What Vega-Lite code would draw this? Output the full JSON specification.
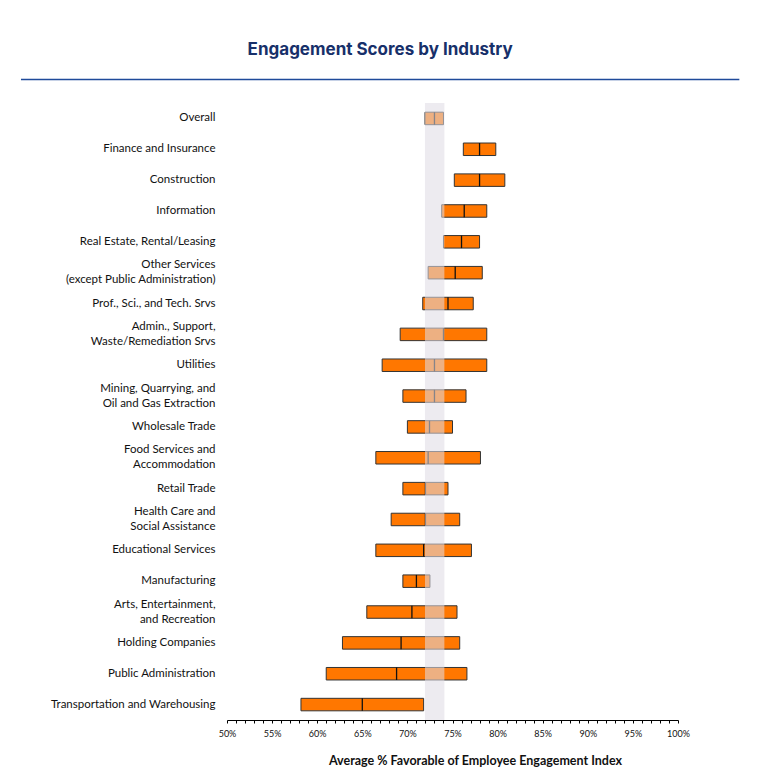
{
  "$schema": "https://vega.github.io/schema/vega-lite/v6.json",
  "padding": {"left": 20, "top": 40, "right": 20, "bottom": 10},
  "title": {"text": "Engagement Scores by Industry", "font": "Inter", "fontSize": 17, "fontWeight": 700, "color": "#17306A", "anchor": "middle", "frame": "bounds", "offset": 20},
  "width": 451,
  "height": 617,
  "config": {"view": {"stroke": null}, "font": "Lato", "axis": {"labelOverlap": false}},
  "resolve": {"scale": {"y": "independent"}},
  "layer": [
    {
      "layer": [
        {
          "data": {"name": "rows", "values": [
            {"industry": "Overall", "low": 71.95, "high": 74.0, "median": 73.0},
            {"industry": "Finance and Insurance", "low": 76.2, "high": 79.8, "median": 78.0},
            {"industry": "Construction", "low": 75.2, "high": 80.8, "median": 78.0},
            {"industry": "Information", "low": 73.8, "high": 78.8, "median": 76.3},
            {"industry": "Real Estate, Rental/Leasing", "low": 74.0, "high": 78.0, "median": 76.0},
            {"industry": "Other Services|(except Public Administration)", "low": 72.3, "high": 78.3, "median": 75.3},
            {"industry": "Prof., Sci., and Tech. Srvs", "low": 71.7, "high": 77.3, "median": 74.5},
            {"industry": "Admin., Support,|Waste/Remediation Srvs", "low": 69.2, "high": 78.8, "median": 74.0},
            {"industry": "Utilities", "low": 67.2, "high": 78.8, "median": 73.0},
            {"industry": "Mining, Quarrying, and|Oil and Gas Extraction", "low": 69.5, "high": 76.5, "median": 73.0},
            {"industry": "Wholesale Trade", "low": 70.0, "high": 75.0, "median": 72.45},
            {"industry": "Food Services and|Accommodation", "low": 66.5, "high": 78.1, "median": 72.3},
            {"industry": "Retail Trade", "low": 69.5, "high": 74.5, "median": 72.0},
            {"industry": "Health Care and|Social Assistance", "low": 68.2, "high": 75.8, "median": 72.0},
            {"industry": "Educational Services", "low": 66.5, "high": 77.1, "median": 71.8},
            {"industry": "Manufacturing", "low": 69.5, "high": 72.5, "median": 71.0},
            {"industry": "Arts, Entertainment,|and Recreation", "low": 65.5, "high": 75.5, "median": 70.5},
            {"industry": "Holding Companies", "low": 62.8, "high": 75.8, "median": 69.3},
            {"industry": "Public Administration", "low": 61.0, "high": 76.6, "median": 68.8},
            {"industry": "Transportation and Warehousing", "low": 58.2, "high": 71.8, "median": 65.0}
          ]},
          "mark": {"type": "bar", "height": 12.5, "fill": "#FF7700", "stroke": "#333333", "strokeWidth": 1},
          "encoding": {
            "y": {"field": "industry", "type": "nominal", "sort": null,
              "scale": {"paddingInner": 0, "paddingOuter": 0},
              "axis": {"title": null, "domain": false, "ticks": false, "labelPadding": 12,
                "labelExpr": "split(datum.label, '|')", "labelLineHeight": 15,
                "labelFont": "Lato", "labelFontSize": 11.5, "labelColor": "#111111", "labelLimit": 300,
                "labelOffset": {"condition": {"test": "indexof('' + datum.value, '|') >= 0", "value": -7.5}, "value": 0}}},
            "x": {"field": "low", "type": "quantitative",
              "scale": {"domain": [50, 100], "nice": false, "zero": false},
              "axis": {"title": "Average % Favorable of Employee Engagement Index",
                "values": [50,51,52,53,54,55,56,57,58,59,60,61,62,63,64,65,66,67,68,69,70,71,72,73,74,75,76,77,78,79,80,81,82,83,84,85,86,87,88,89,90,91,92,93,94,95,96,97,98,99,100],
                "tickCount": 60,
                "labelExpr": "datum.value % 5 === 0 ? datum.value + '%' : ''",
                "labelOverlap": false, "labelBound": false,
                "grid": false, "domainColor": "#000000", "domainWidth": 1,
                "tickColor": "#000000", "tickWidth": 1, "tickSize": 3,
                "labelFont": "Lato", "labelFontSize": 9, "labelColor": "#111111", "labelPadding": 6,
                "labelFlush": false,
                "titleFont": "Lato", "titleFontSize": 12.5, "titleFontWeight": "bold", "titleColor": "#111111", "titlePadding": 16,
                "titleX": 248,
                "encode": {"ticks": {"update": {
                  "y": {"signal": "datum.value % 5 === 0 ? -2.5 : 0"},
                  "y2": {"signal": "datum.value % 5 === 0 ? 3 : 2.5"}
                }}}
              }},
            "x2": {"field": "high"}
          }
        },
        {
          "data": {"name": "rows"},
          "mark": {"type": "tick", "orient": "vertical", "size": 12.5, "thickness": 1.3, "color": "#111111", "opacity": 1},
          "encoding": {
            "y": {"field": "industry", "type": "nominal", "sort": null},
            "x": {"field": "median", "type": "quantitative"}
          }
        },
        {
          "data": {"values": [{"band_low": 71.95, "band_high": 74.1}]},
          "mark": {"type": "rect", "fill": "#DFDBE4", "opacity": 0.57},
          "encoding": {
            "x": {"field": "band_low", "type": "quantitative"},
            "x2": {"field": "band_high"}
          }
        }
      ]
    },
    {
      "data": {"values": [{}]},
      "mark": {"type": "rule", "color": "#1F4A9A", "strokeWidth": 1.5},
      "encoding": {
        "x": {"datum": 27.16, "type": "quantitative"},
        "x2": {"datum": 106.8},
        "y": {"datum": 1.038, "type": "quantitative", "scale": {"domain": [0, 1]}, "axis": null}
      }
    }
  ]
}
